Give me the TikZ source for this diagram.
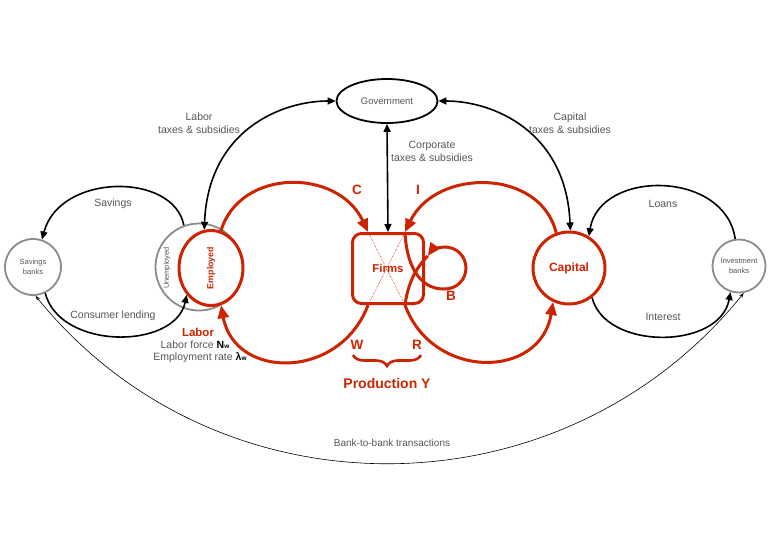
\documentclass[tikz,border=0pt]{standalone}
\usepackage{fontspec}
\setmainfont{Liberation Sans}
\usetikzlibrary{arrows.meta,shapes.geometric,calc,decorations.pathreplacing}
\definecolor{myred}{RGB}{204,36,0}
\definecolor{mygray}{RGB}{140,140,140}
\definecolor{txtgray}{RGB}{85,85,85}
\begin{document}
\begin{tikzpicture}[x=1pt,y=1pt,
  redw/.style={draw=myred,line width=3pt},
  redarr/.style={redw,-{Triangle[length=13pt,width=11pt]}},
  blk/.style={draw=black,line width=1.6pt},
  blkarr/.style={blk,-{Triangle[length=8pt,width=7pt]}},
  blkarrr/.style={blk,{Triangle[length=8pt,width=7pt]}-{Triangle[length=8pt,width=7pt]}},
  thinarr/.style={draw=black,line width=0.6pt,{Stealth[length=5pt,width=3.5pt]}-{Stealth[length=5pt,width=3.5pt]}},
  bankc/.style={circle,draw=mygray,line width=1.8pt,inner sep=0pt,align=center,text=txtgray,font=\fontsize{7.5}{10}\selectfont},
  lbl/.style={font=\fontsize{10.5}{13}\selectfont,text=txtgray,align=center},
  redbig/.style={font=\bfseries\fontsize{13.5}{15}\selectfont,text=myred},
]
\useasboundingbox (0,0) rectangle (776,-544);

% ---- nodes
\node[bankc,minimum size=87pt] (unemp) at (199,-267) {};
\node[rotate=90,font=\fontsize{7.4}{8}\selectfont,text=txtgray] (unlab) at (167,-268) {Unemployed};
\node[ellipse,draw=myred,fill=white,line width=3pt,minimum width=64pt,minimum height=75pt,inner sep=0pt] (emp) at (211,-268) {};
\node[rotate=90,font=\bfseries\fontsize{8.8}{9}\selectfont,text=myred] (emplab) at (211,-268) {Employed};
\node[bankc,minimum size=56pt] (sav) at (33,-267) {Savings\\banks};
\node[bankc,minimum size=53pt] (inv) at (739,-266) {Investment\\banks};
\node[circle,draw=myred,line width=3pt,minimum size=72pt,inner sep=0pt,font=\bfseries\fontsize{12}{14}\selectfont,text=myred] (cap) at (569,-268) {Capital};
\node[draw=myred,line width=3pt,rounded corners=9pt,minimum width=71pt,minimum height=70pt,inner sep=0pt] (firms) at (388,-268.5) {};
\node[ellipse,draw=black,line width=1.8pt,minimum width=101pt,minimum height=44pt,inner sep=0pt,font=\fontsize{9.5}{11}\selectfont,text=txtgray] (gov) at (387,-101) {Government};

% ---- anchor points on the firm box
\coordinate (ftl) at ($(firms.north west)!0.23!(firms.north east)$);
\coordinate (ftr) at ($(firms.north west)!0.73!(firms.north east)$);
\coordinate (fbl) at ($(firms.south west)!0.23!(firms.south east)$);
\coordinate (fbr) at ($(firms.south west)!0.73!(firms.south east)$);
\coordinate (bc) at (445,-268);
\coordinate (bbot) at ($(bc)+(0,-21)$);
\coordinate (btip) at ($(bc)+(145:21)$);

\draw[myred,line width=0.6pt,densely dotted] (ftl) -- (fbr) (ftr) -- (fbl);
\node[font=\bfseries\fontsize{11.4}{13}\selectfont,text=myred] (firmslab) at (firms.center) {Firms};

% ---- red flows
\draw[redarr] (emp.75) .. controls +(19,63) and +(-30,64) .. (ftl);
\draw[redarr] (fbl) .. controls +(-28,-75) and +(14,-75) .. (emp.-75);
\draw[redarr] (cap.110) .. controls +(-16,65) and +(31,64) .. (ftr);
\draw[redarr] (ftr) .. controls +(1,-30) and +(-27,-1) .. (bbot) arc[start angle=-90,end angle=145,radius=21];
\draw[redarr] (btip) .. controls +(-12,-12) and +(3,22) .. (fbr) .. controls +(27,-75) and +(-13,-78) .. (cap.-115);

% ---- black flows
\draw[blkarrr] (emp.100) .. controls +(4,99) and +(-55,0) .. (gov.west);
\draw[blkarrr] (gov.east) .. controls +(55,0) and +(-4,99) .. (cap.88);
\draw[blkarrr] (firms.north) -- (gov.south);
\draw[blkarr] (unemp.110) .. controls +(-10,53) and +(18,67) .. (sav.72);
\draw[blkarr] (sav.-65) .. controls +(15,-57) and +(-12,-55) .. (emp.-132);
\draw[blkarr] (inv.98) .. controls +(-10,69) and +(11,67) .. (cap.58);
\draw[blkarr] (cap.-52) .. controls +(13,-53) and +(-11,-58) .. (inv.-108);
\draw[thinarr] (sav.-85) .. controls +(182,-225) and +(-182,-225) .. (inv.-80);

% ---- brace
\coordinate (brl) at (353,-355);
\coordinate (brr) at (421,-355);
\draw[myred,line width=2.6pt,decorate,decoration={brace,mirror,amplitude=11pt}] (brl) -- (brr);

% ---- labels
\node[lbl] (ltax) at (199,-123.5) {Labor\\taxes \& subsidies};
\node[lbl] (ctax) at (570,-123.5) {Capital\\taxes \& subsidies};
\node[lbl] (corp) at (432,-151) {Corporate\\taxes \& subsidies};
\node[lbl] (savl) at (113,-204) {Savings};
\node[lbl] (conl) at (113,-316) {Consumer lending};
\node[lbl] (loanl) at (663,-204) {Loans};
\node[lbl] (intl) at (663,-317) {Interest};
\node[lbl,font=\fontsize{10}{12}\selectfont] (bbl) at (392,-443) {Bank-to-bank transactions};
\node[redbig] (cl) at (357,-190) {C};
\node[redbig] (il) at (418,-190) {I};
\node[redbig] (wl) at (357,-345) {W};
\node[redbig] (rl) at (417,-345) {R};
\node[redbig] (bl) at (451,-296) {B};
\node[redbig,font=\bfseries\fontsize{14}{16}\selectfont] (prod) at (387,-383) {Production Y};
\node[font=\bfseries\fontsize{11.5}{13}\selectfont,text=myred] (labr) at (198,-332) {Labor};
\node[lbl] (lf) at (195,-345) {Labor force \textcolor{black}{\textbf{N}{\fontsize{6.5}{7}\selectfont\textbf{w}}}};
\node[lbl] (er) at (200,-358) {Employment rate \textcolor{black}{\textbf{λ}{\fontsize{6.5}{7}\selectfont\textbf{w}}}};
\end{tikzpicture}
\end{document}
